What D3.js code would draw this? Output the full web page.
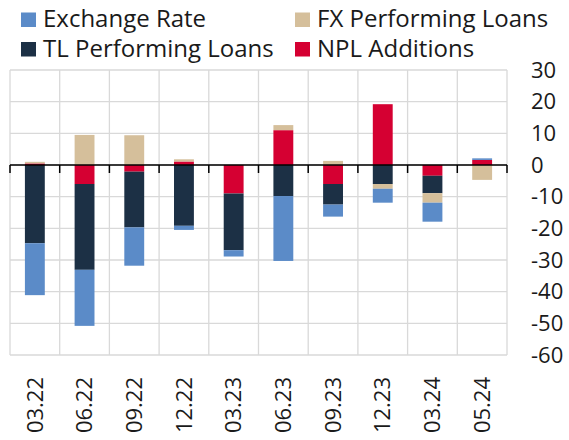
<!DOCTYPE html>
<html>
<head>
<meta charset="utf-8">
<script src="https://cdn.jsdelivr.net/npm/d3@7"></script>
<style>
  body { margin: 0; background: #fff; }
  svg { font-family: "Open Sans", sans-serif; }
</style>
</head>
<body>
<svg id="chart" width="569" height="440"></svg>
<script>
// quarters on the x axis
var periods = ["03.22", "06.22", "09.22", "12.22", "03.23", "06.23", "09.23", "12.23", "03.24", "05.24"];

// contributions
var exchangeRate = [-16.4, -17.7, -12.1, -1.3, -2.0, -20.5, -3.8, -4.4, -6.0, 0.5];
var fxLoans      = [0.5, 9.5, 9.4, 0.7, 0.0, 1.6, 1.3, -1.5, -3.0, -4.7];
var tlLoans      = [-24.7, -27.1, -17.6, -19.2, -17.9, -9.8, -6.5, -6.0, -5.5, 0.0];
var nplAdditions = [0.5, -6.0, -2.1, 1.1, -9.0, 11.0, -6.0, 19.2, -3.4, 1.6];

var yTicks = [30, 20, 10, 0, -10, -20, -30, -40, -50, -60];

// stacking order (nearest zero first) and legend order
var stackKeys = ["npl", "tl", "fx", "er"];
var legendItems = [
	{ key: "er", label: "Exchange Rate", col: 0, row: 0 },
	{ key: "fx", label: "FX Performing Loans", col: 1, row: 0 },
	{ key: "tl", label: "TL Performing Loans", col: 0, row: 1 },
	{ key: "npl", label: "NPL Additions", col: 1, row: 1 }
];
var colors = { er: "#5b8bc8", fx: "#d5bf9b", tl: "#1c3045", npl: "#d50032" };

var rows = periods.map(function(p, i){
	return { period: p, er: exchangeRate[i], fx: fxLoans[i], tl: tlLoans[i], npl: nplAdditions[i] };
});

var svg = d3.select("#chart");
var plotLeft = 10, plotRight = 507, plotTop = 70, plotBottom = 355;

var x = d3.scaleBand().domain(periods).range([plotLeft, plotRight]).paddingInner(0.6).paddingOuter(0.3);
var y = d3.scaleLinear().domain([-60, 30]).range([plotBottom, plotTop]);

// grid
var step = (plotRight - plotLeft) / periods.length;
var grid = svg.append("g");
yTicks.forEach(function(t){
	grid.append("line")
		.attr("x1", plotLeft).attr("x2", plotRight)
		.attr("y1", y(t)).attr("y2", y(t))
		.attr("stroke", "#d9d9d9").attr("stroke-width", 1.3);
});
for (var i = 0; i <= periods.length; i++) {
	grid.append("line")
		.attr("x1", plotLeft + i*step).attr("x2", plotLeft + i*step)
		.attr("y1", plotTop).attr("y2", plotBottom)
		.attr("stroke", "#d9d9d9").attr("stroke-width", 1.3);
}

// bars
var series = d3.stack().keys(stackKeys).offset(d3.stackOffsetDiverging)(rows);
svg.append("g").selectAll("g")
	.data(series)
	.join("g")
	.attr("fill", function(d){ return colors[d.key]; })
	.selectAll("rect")
	.data(function(d){ return d; })
	.join("rect")
	.attr("x", function(d){ return x(d.data.period); })
	.attr("width", x.bandwidth())
	.attr("y", function(d){ return y(Math.max(d[0], d[1])); })
	.attr("height", function(d){ return Math.abs(y(d[0]) - y(d[1])); });

// zero axis with ticks at the category edges
var axis = svg.append("g");
axis.append("line")
	.attr("x1", plotLeft).attr("x2", plotRight)
	.attr("y1", y(0)).attr("y2", y(0))
	.attr("stroke", "#000").attr("stroke-width", 1.5);
for (var k = 0; k <= periods.length; k++) {
	axis.append("line")
		.attr("x1", plotLeft + k*step).attr("x2", plotLeft + k*step)
		.attr("y1", y(0)).attr("y2", y(0) + 8)
		.attr("stroke", "#000").attr("stroke-width", 1.5);
}

// y labels on the right
svg.append("g").selectAll("text")
	.data(yTicks)
	.join("text")
	.attr("x", 531)
	.attr("y", function(d){ return y(d); })
	.attr("dy", "0.35em")
	.attr("font-size", 22)
	.attr("fill", "#1a1a1a")
	.text(function(d){ return d; });

// x labels, rotated
svg.append("g").selectAll("text")
	.data(periods)
	.join("text")
	.attr("transform", function(d){ return "translate(" + (x(d) + x.bandwidth()/2) + ",377) rotate(-90)"; })
	.attr("text-anchor", "end")
	.attr("dy", "0.35em")
	.attr("font-size", 22)
	.attr("fill", "#1a1a1a")
	.text(function(d){ return d; });

// legend
var legend = svg.append("g");
legendItems.forEach(function(item){
	var lx = item.col === 0 ? 21 : 295;
	var ly = item.row === 0 ? 12.5 : 42;
	legend.append("rect")
		.attr("x", lx).attr("y", ly)
		.attr("width", 15).attr("height", 14.5)
		.attr("fill", colors[item.key]);
	legend.append("text")
		.attr("x", lx + 22).attr("y", ly + 14.5)
		.attr("font-size", 24)
		.attr("fill", "#1a1a1a")
		.text(item.label);
});
</script>
</body>
</html>
